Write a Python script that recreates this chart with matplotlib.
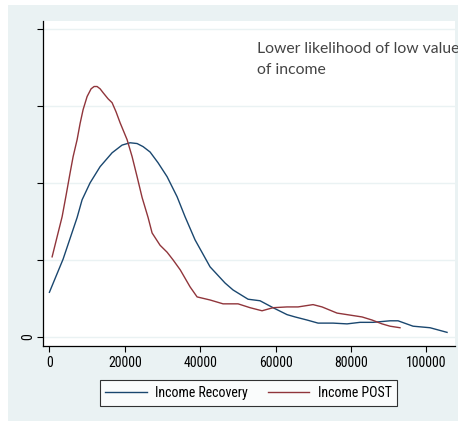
import matplotlib
matplotlib.use("Agg")
import matplotlib.pyplot as plt
from matplotlib.patches import Rectangle

# kernel density estimates of income (density units scaled so one tick step = 1)
rec_income = [0, 3630, 7350, 8670, 10790, 13450, 16630, 19280, 21400, 23260,
              24850, 26710, 28830, 31220, 33870, 35990, 38640, 42620, 46600,
              48720, 52700, 55880, 59330, 63040, 65170, 68350, 71270, 75250,
              78960, 82410, 85860, 90370, 92490, 96470, 100980, 105490]
rec_density = [0.58, 1.01, 1.55, 1.78, 2.00, 2.21, 2.39, 2.49, 2.52, 2.51,
               2.47, 2.40, 2.26, 2.08, 1.82, 1.56, 1.26, 0.91, 0.70,
               0.61, 0.49, 0.47, 0.38, 0.29, 0.26, 0.22, 0.18, 0.18,
               0.17, 0.19, 0.19, 0.21, 0.21, 0.14, 0.12, 0.06]

post_income = [720, 2040, 3370, 4430, 5490, 6290, 7350, 8140, 8940, 10000,
               11060, 11860, 12650, 13450, 14240, 15570, 16630, 17690, 18750,
               20610, 21940, 23260, 24590, 26180, 27240, 29360, 31220, 32810,
               34720, 37320, 39180, 42630, 46070, 50050, 53230, 56410, 59330,
               63040, 65960, 69940, 72330, 76310, 78960, 82940, 85590, 88240,
               90360, 93010]
post_density = [1.04, 1.30, 1.56, 1.84, 2.13, 2.34, 2.56, 2.77, 2.95, 3.12,
                3.22, 3.25, 3.25, 3.22, 3.17, 3.09, 3.04, 2.92, 2.78,
                2.56, 2.34, 2.08, 1.81, 1.55, 1.35, 1.19, 1.10, 1.00,
                0.87, 0.65, 0.52, 0.48, 0.43, 0.43, 0.38, 0.34, 0.38,
                0.39, 0.39, 0.42, 0.39, 0.31, 0.29, 0.26, 0.22, 0.17,
                0.14, 0.12]

xticks = [0, 20000, 40000, 60000, 80000, 100000]
yticks = [0, 1, 2, 3, 4]
ytick_labels = ["0", "", "", "", ""]

navy = "#1a476f"
maroon = "#90353b"
region = "#eaf2f3"
narrow = ["Liberation Sans Narrow", "Roboto Condensed",
          "Sofia Sans Semi Condensed", "DejaVu Sans"]

fig = plt.figure(figsize=(4.58, 4.23), dpi=100, facecolor="white")
fig.patches.append(Rectangle((8 / 458, 1 - 421 / 423), 450 / 458, 416 / 423,
                             transform=fig.transFigure, facecolor=region,
                             edgecolor="none", zorder=-5))

ax = fig.add_axes([43 / 458, 1 - 346 / 423, 412 / 458, 325 / 423])
ax.set_facecolor("white")

ax.plot(rec_income, rec_density, color=navy, lw=1.0, label="Income Recovery")
ax.plot(post_income, post_density, color=maroon, lw=1.0, label="Income POST")

ax.set_xlim(-1700, 107600)
ax.set_ylim(-0.117, 4.10)

tick_font = {"family": narrow, "size": 10}
ax.set_xticks(xticks)
ax.set_xticklabels([str(v) for v in xticks], fontdict=tick_font)
ax.set_yticks(yticks)
ax.set_yticklabels(ytick_labels, fontdict=tick_font, rotation=90, va="center")
ax.tick_params(direction="out", length=4, width=0.8, color="black", pad=3)
ax.tick_params(axis="y", pad=1.5)

ax.grid(axis="y", color=region, lw=1.0)
ax.set_axisbelow(True)
for side in ("top", "right"):
    ax.spines[side].set_visible(False)
for side in ("left", "bottom"):
    ax.spines[side].set_color("black")
    ax.spines[side].set_linewidth(0.9)

fig.text(257 / 458, 1 - 42 / 423, "Lower likelihood of low value\nof income",
         family="Lato", size=11.3, color="#444444", va="top", ha="left",
         linespacing=1.6)

leg = fig.legend(loc="center", bbox_to_anchor=(248.5 / 458, 1 - 393 / 423),
                 ncol=2, frameon=True, fancybox=False, handlelength=3.0,
                 columnspacing=1.4, handletextpad=0.6, borderpad=0.4,
                 prop={"family": narrow, "size": 10})
leg.get_frame().set_edgecolor("black")
leg.get_frame().set_linewidth(0.8)

fig.savefig("out.png", dpi=100, facecolor="white")
